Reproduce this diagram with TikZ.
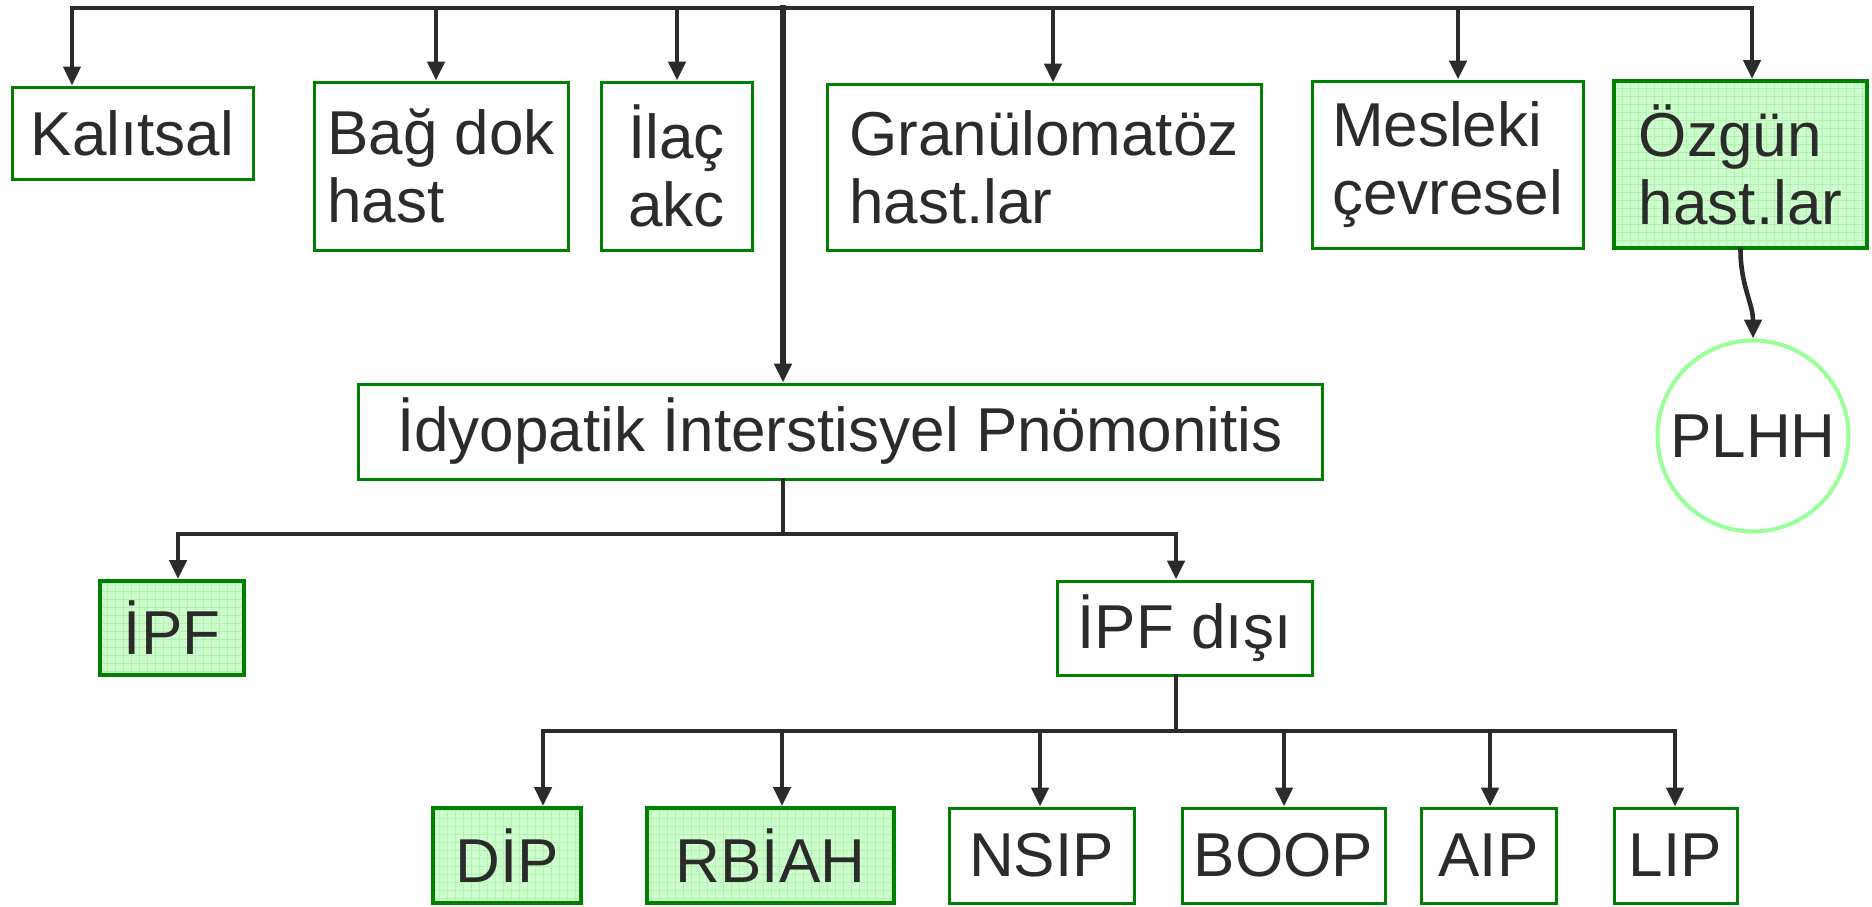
\documentclass[tikz,border=0pt]{standalone}
\usepackage{fontspec}
\setmainfont{Liberation Sans}
\usetikzlibrary{arrows.meta}
\definecolor{boxgreen}{HTML}{008000}
\definecolor{softgreen}{HTML}{CCFFCC}
\definecolor{gridgreen}{HTML}{B4F2B4}
\definecolor{ringgreen}{HTML}{99FF99}
\definecolor{linegray}{HTML}{2B2B2B}
\tikzset{
  box/.style={draw=boxgreen, line width=1.5pt, fill=white, inner sep=0pt, align=left, text=linegray},
  hibox/.style={box, line width=2pt, fill=softgreen,
    path picture={\draw[gridgreen, line width=0.4pt] (path picture bounding box.south west) grid[step=4pt] (path picture bounding box.north east);}},
  ring/.style={draw=ringgreen, line width=2pt, circle, fill=white, inner sep=0pt, text=linegray},
  link/.style={draw=linegray, line width=2.3pt, line cap=rect},
  arr/.style={link, -{Triangle[width=8.5pt,length=9.5pt]}},
}
\begin{document}
\begin{tikzpicture}[x=0.5pt,y=-0.5pt,font=\fontsize{31}{34}\selectfont]
            \useasboundingbox (0,0) rectangle (1872,906);

            % top row
            \node[box, minimum width=120.5pt, minimum height=46pt] (kal) at (132.5,133){Kalıtsal};
            \node[box, minimum width=127pt, minimum height=84pt] (bag) at (441,166){Bağ dok\\hast};
            \node[box, minimum width=75.5pt, minimum height=84pt] (ilac) at (676.5,166){İlaç\\akc};
            \node[box, minimum width=217pt, minimum height=83pt] (gran) at (1044,167){Granülomatöz\\hast.lar};
            \node[box, minimum width=135.5pt, minimum height=83.5pt] (mes) at (1447.5,164.5){Mesleki\\çevresel};
            \node[hibox, minimum width=126.5pt, minimum height=83.5pt] (ozg) at (1740.5,164.5){Özgün\\hast.lar};
            \node[ring, minimum size=95.5pt] (plhh) at (1753,436){PLHH};

            % middle
            \node[box, minimum width=482pt, minimum height=47.5pt] (idyo) at (840,431.5){İdyopatik İnterstisyel Pnömonitis};
            \node[hibox, minimum width=72pt, minimum height=47pt] (ipf) at (172,628){İPF};
            \node[box, minimum width=127.5pt, minimum height=47pt] (ipfd) at (1184.5,628){İPF dışı};

            % bottom row
            \node[hibox, minimum width=74pt, minimum height=47.5pt] (dip) at (507,855.5){DİP};
            \node[hibox, minimum width=123.5pt, minimum height=47.5pt] (rbiah) at (770.5,855.5){RBİAH};
            \node[box, minimum width=92.5pt, minimum height=47.5pt] (nsip) at (1041.5,855.5){NSIP};
            \node[box, minimum width=101.5pt, minimum height=47.5pt] (boop) at (1283.5,855.5){BOOP};
            \node[box, minimum width=67.5pt, minimum height=47.5pt] (aip) at (1488.5,855.5){AIP};
            \node[box, minimum width=61.5pt, minimum height=47.5pt] (lip) at (1675.5,855.5){LIP};

            \foreach \x/\n in {72/kal,436/bag,677/ilac,1053/gran,1458/mes,1752/ozg}{
                \coordinate (t\n) at (\x,8);
                \draw[arr] (t\n) -- (t\n |- \n.north);
            }
            \draw[link] (tkal) -- (tozg);
            \coordinate (tmain) at (783,8);
            \draw[arr, line width=3pt] (tmain) -- (tmain |- idyo.north);
            \draw[arr] (ozg.south) to[out=-90,in=90] (plhh.north);

            \coordinate (j2) at (783,534);
            \draw[link] (j2 |- idyo.south) -- (j2);
            \foreach \x/\n in {178/ipf,1176/ipfd}{
                \coordinate (t\n) at (\x,534);
                \draw[arr] (t\n) -- (t\n |- \n.north);
            }
            \draw[link] (tipf) -- (tipfd);

            \coordinate (j3) at (1176,731);
            \draw[link] (j3 |- ipfd.south) -- (j3);
            \foreach \x/\n in {543/dip,782/rbiah,1040/nsip,1284/boop,1490/aip,1675/lip}{
                \coordinate (t\n) at (\x,731);
                \draw[arr] (t\n) -- (t\n |- \n.north);
            }
            \draw[link] (tdip) -- (tlip);
        \end{tikzpicture}
\end{document}
